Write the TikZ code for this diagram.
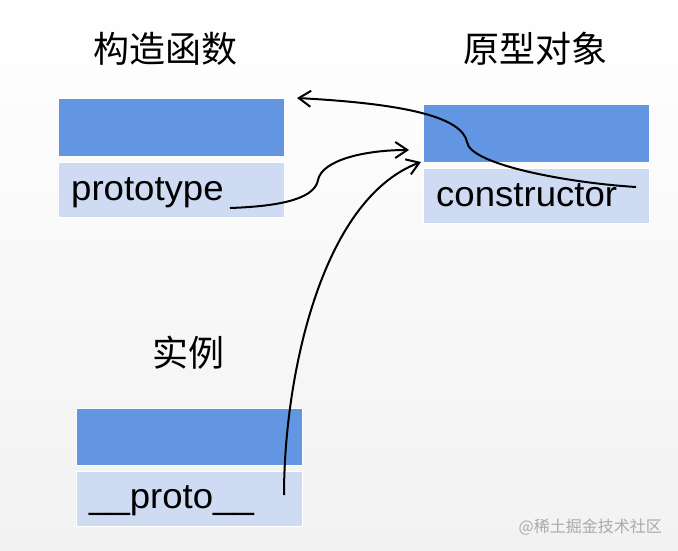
\documentclass[tikz,border=0pt]{standalone}
\usepackage{fontspec}
\setmainfont{Liberation Sans}[FakeStretch=1.03]
\newfontfamily\cjk{Noto Sans CJK SC}
\usetikzlibrary{arrows.meta}
\definecolor{headblue}{RGB}{98,150,226}
\definecolor{bodyblue}{RGB}{207,219,243}
\definecolor{bgbottom}{RGB}{242,242,242}
\definecolor{wmgray}{RGB}{170,170,170}
\tikzset{
  headbox/.style={rectangle, fill=headblue, draw=white, line width=1pt, anchor=north west, minimum width=226pt, minimum height=57pt, inner sep=0pt, outer sep=0pt},
  bodybox/.style={rectangle, fill=bodyblue, draw=white, line width=1pt, anchor=north west, minimum width=226pt, minimum height=55pt, inner sep=0pt, outer sep=0pt},
  title/.style={font=\cjk\fontsize{36}{40}\selectfont, inner sep=0pt, anchor=center},
  label/.style={font=\fontsize{35.5}{40}\selectfont, inner sep=0pt, anchor=base west},
  link/.style={line width=2pt, -{Straight Barb[length=12pt,width=16pt]}}
}
\begin{document}
\begin{tikzpicture}[x=1pt,y=-1pt]
\shade[top color=white, bottom color=bgbottom] (0,0) rectangle (678,551);
\useasboundingbox (0,0) rectangle (678,551);
% titles
\node[title] (tA) at (165,49) {构造函数};
\node[title] (tB) at (535,49) {原型对象};
\node[title] (tC) at (188,353) {实例};
% boxes
\node[headbox] (Ahead) at (58,99) {};
\node[bodybox] (Abody) at (58,162) {};
\node[headbox] (Bhead) at (423,105) {};
\node[bodybox] (Bbody) at (423,168) {};
\node[headbox] (Chead) at (76,408) {};
\node[bodybox] (Cbody) at (76,471) {};
% labels
\node[label] (lA) at (71,200) {prototype};
\node[label] (lB) at (436,206) {constructor};
\node[label] (lC) at (89,508) {\_\_proto\_\_};
% watermark
\node[font=\cjk\fontsize{16}{18}\selectfont, text=wmgray, inner sep=0pt, anchor=east] (wm) at (662,527) {@稀土掘金技术社区};
% connector endpoints
\coordinate (cEnd) at (636,187);
\coordinate (aTip) at (297,98);
\coordinate (pEnd) at (230,208);
\coordinate (bTip1) at (409,150);
\coordinate (prEnd) at (284,495);
\coordinate (bTip2) at (421,162);
% connectors
\draw[link] (cEnd) .. controls (570,183) and (470,165) .. (467,142)
  .. controls (462,118) and (410,104) .. (aTip);
\draw[link] (pEnd) .. controls (290,206) and (315,196) .. (318,180)
  .. controls (322,160) and (365,150) .. (bTip1);
\draw[link] (prEnd) .. controls (284,380) and (320,200) .. (bTip2);
\end{tikzpicture}
\end{document}
